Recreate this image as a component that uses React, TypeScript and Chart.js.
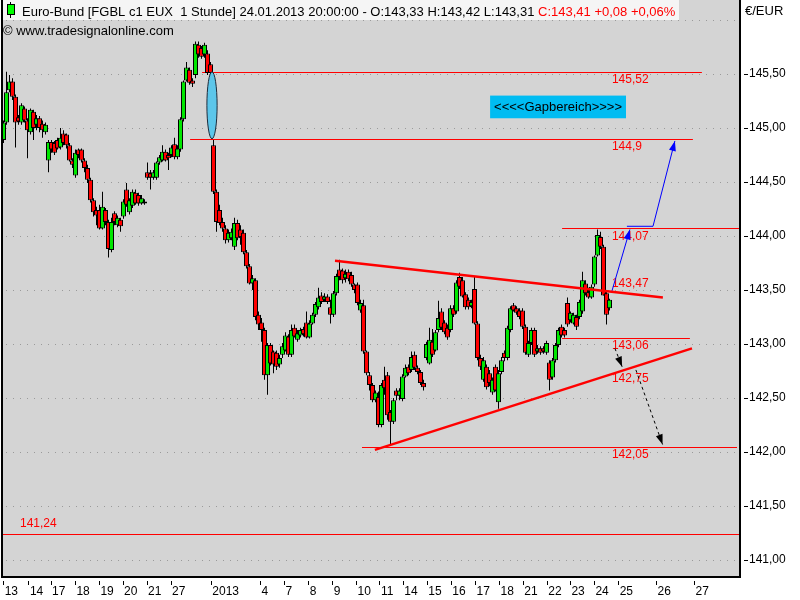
import React, { useEffect, useRef } from 'react';
import { Chart, registerables } from 'chart.js';

Chart.register(...registerables);

// ---- hourly candles (resampled, ~1.8 bars per candle) ----
const opens = [
  144.89, 145.05, 145.35, 145.43, 145.29, 145.10, 145.05, 145.18, 145.07, 144.96,
  145.15, 145.03, 145.09, 145.04, 144.96, 144.70, 144.87, 144.86, 144.89, 144.82,
  144.95, 144.94, 144.84, 144.70, 144.56, 144.80, 144.80, 144.70, 144.63, 144.52,
  144.33, 144.24, 144.24, 144.07, 144.24, 144.13, 143.87, 144.21, 144.10, 144.15,
  144.18, 144.43, 144.22, 144.28, 144.40, 144.38, 144.30, 144.32, 144.59, 144.58,
  144.54, 144.54, 144.68, 144.70, 144.78, 144.75, 144.75, 144.85, 144.73, 144.80,
  145.08, 145.44, 145.54, 145.44, 145.49, 145.77, 145.74, 145.68, 145.69, 145.59,
  144.84, 144.41, 144.24, 144.13, 144.07, 143.96, 143.98, 143.90, 144.12, 144.06,
  144.03, 143.85, 143.72, 143.56, 143.59, 143.27, 143.20, 143.13, 142.71, 142.99,
  142.93, 142.92, 142.81, 142.90, 142.94, 143.07, 142.90, 143.15, 143.04, 143.08,
  143.14, 143.20, 143.06, 143.19, 143.27, 143.34, 143.45, 143.41, 143.44, 143.34,
  143.27, 143.47, 143.69, 143.68, 143.61, 143.67, 143.64, 143.55, 143.55, 143.31,
  143.36, 142.93, 142.71, 142.62, 142.48, 142.51, 142.25, 142.67, 142.71, 142.37,
  142.28, 142.57, 142.52, 142.49, 142.70, 142.79, 142.76, 142.90, 142.78, 142.74,
  142.64, 142.87, 142.82, 143.02, 142.94, 143.13, 143.30, 143.20, 143.15, 143.13,
  143.33, 143.30, 143.62, 143.59, 143.46, 143.41, 143.35, 143.51, 143.19, 142.87,
  142.67, 142.79, 142.73, 142.55, 142.79, 142.46, 142.74, 142.92, 142.87, 143.13,
  143.36, 143.33, 143.31, 143.31, 143.16, 142.90, 143.01, 143.13, 142.93, 142.96,
  142.96, 142.92, 142.83, 142.69, 142.85, 142.99, 143.16, 143.13, 143.38, 143.22,
  143.19, 143.25, 143.25, 143.30, 143.56, 143.48, 143.43, 143.55, 143.82, 143.99,
  143.90, 143.47, 143.33,
];
const highs = [
  145.07, 145.52, 145.49, 145.46, 145.31, 145.12, 145.23, 145.20, 145.09, 145.18,
  145.17, 145.12, 145.11, 145.07, 145.05, 144.89, 144.89, 144.88, 144.91, 145.00,
  144.98, 144.95, 144.86, 144.72, 144.80, 144.81, 144.81, 144.72, 144.66, 144.54,
  144.35, 144.27, 144.29, 144.41, 144.26, 144.15, 144.17, 144.23, 144.19, 144.17,
  144.34, 144.49, 144.35, 144.43, 144.43, 144.40, 144.38, 144.34, 144.68, 144.61,
  144.61, 144.69, 144.75, 144.84, 144.80, 144.77, 144.84, 144.91, 144.84, 145.10,
  145.44, 145.61, 145.56, 145.46, 145.80, 145.80, 145.76, 145.79, 145.72, 145.61,
  144.89, 144.43, 144.29, 144.17, 144.10, 144.06, 144.07, 144.17, 144.15, 144.10,
  144.06, 143.87, 143.74, 143.64, 143.61, 143.30, 143.24, 143.15, 143.01, 143.01,
  142.94, 142.94, 142.90, 143.01, 143.11, 143.09, 143.18, 143.18, 143.13, 143.15,
  143.16, 143.30, 143.22, 143.29, 143.39, 143.52, 143.48, 143.47, 143.46, 143.41,
  143.49, 143.65, 143.78, 143.70, 143.69, 143.69, 143.67, 143.56, 143.57, 143.41,
  143.41, 142.94, 142.74, 142.64, 142.57, 142.56, 142.64, 142.79, 142.74, 142.39,
  142.50, 142.59, 142.59, 142.72, 142.81, 142.81, 142.93, 142.93, 142.80, 142.76,
  142.67, 143.02, 143.15, 143.14, 143.13, 143.40, 143.33, 143.22, 143.18, 143.36,
  143.36, 143.59, 143.66, 143.62, 143.48, 143.43, 143.41, 143.62, 143.21, 142.90,
  142.88, 142.81, 142.76, 142.69, 142.81, 142.76, 142.88, 142.94, 143.17, 143.35,
  143.38, 143.35, 143.33, 143.33, 143.18, 143.03, 143.15, 143.15, 142.99, 142.98,
  142.98, 143.03, 142.85, 142.87, 143.01, 143.15, 143.18, 143.15, 143.43, 143.30,
  143.29, 143.27, 143.41, 143.67, 143.59, 143.52, 143.55, 143.82, 144.06, 144.04,
  143.92, 143.49, 143.42,
];
const lows = [
  144.86, 145.03, 145.33, 145.26, 144.82, 145.03, 145.03, 145.05, 144.72, 144.94,
  144.89, 144.98, 144.96, 144.91, 144.94, 144.59, 144.77, 144.75, 144.80, 144.80,
  144.84, 144.81, 144.69, 144.63, 144.54, 144.72, 144.68, 144.59, 144.49, 144.31,
  144.18, 144.10, 144.06, 144.06, 144.10, 143.80, 143.85, 144.10, 144.08, 144.04,
  144.16, 144.27, 144.20, 144.26, 144.29, 144.28, 144.29, 144.29, 144.52, 144.43,
  144.52, 144.52, 144.66, 144.69, 144.69, 144.61, 144.73, 144.71, 144.71, 144.78,
  145.06, 145.43, 145.40, 145.38, 145.46, 145.65, 145.64, 145.65, 145.49, 145.49,
  144.39, 144.04, 144.10, 144.04, 143.93, 143.94, 143.96, 143.87, 143.96, 143.92,
  143.83, 143.70, 143.55, 143.50, 143.22, 143.13, 143.02, 142.67, 142.53, 142.80,
  142.73, 142.76, 142.78, 142.87, 142.93, 142.88, 142.88, 143.06, 143.02, 143.06,
  143.07, 143.05, 143.05, 143.18, 143.25, 143.32, 143.37, 143.39, 143.37, 143.19,
  143.25, 143.45, 143.59, 143.56, 143.57, 143.58, 143.53, 143.47, 143.36, 143.29,
  142.91, 142.71, 142.57, 142.46, 142.46, 142.23, 142.23, 142.53, 142.30, 142.07,
  142.26, 142.48, 142.48, 142.47, 142.69, 142.71, 142.74, 142.76, 142.72, 142.62,
  142.57, 142.85, 142.81, 142.88, 142.93, 143.11, 143.13, 143.09, 143.04, 143.11,
  143.25, 143.28, 143.51, 143.43, 143.32, 143.32, 143.33, 143.18, 142.85, 142.76,
  142.65, 142.58, 142.61, 142.53, 142.56, 142.40, 142.72, 142.84, 142.85, 143.11,
  143.30, 143.27, 143.23, 143.14, 142.90, 142.88, 142.99, 142.88, 142.91, 142.90,
  142.91, 142.90, 142.57, 142.67, 142.83, 142.97, 143.06, 143.06, 143.16, 143.20,
  143.18, 143.13, 143.23, 143.28, 143.45, 143.42, 143.42, 143.53, 143.81, 143.88,
  143.45, 143.18, 143.31,
];
const closes = [
  145.05, 145.33, 145.43, 145.29, 145.05, 145.06, 145.21, 145.07, 144.98, 145.17,
  145.00, 145.09, 145.00, 144.98, 145.03, 144.87, 144.80, 144.77, 144.81, 144.91,
  144.86, 144.84, 144.70, 144.66, 144.77, 144.75, 144.70, 144.63, 144.52, 144.33,
  144.22, 144.19, 144.07, 144.27, 144.13, 143.88, 144.13, 144.13, 144.17, 144.09,
  144.32, 144.29, 144.33, 144.41, 144.30, 144.30, 144.35, 144.30, 144.54, 144.54,
  144.59, 144.68, 144.73, 144.78, 144.70, 144.72, 144.82, 144.73, 144.81, 145.08,
  145.43, 145.56, 145.42, 145.41, 145.78, 145.68, 145.66, 145.77, 145.51, 145.51,
  144.41, 144.13, 144.12, 144.07, 143.96, 144.03, 144.04, 144.12, 143.98, 143.99,
  143.85, 143.72, 143.56, 143.61, 143.25, 143.18, 143.13, 142.71, 142.99, 142.82,
  142.81, 142.79, 142.87, 142.98, 143.08, 142.90, 143.13, 143.07, 143.10, 143.13,
  143.09, 143.06, 143.19, 143.27, 143.37, 143.43, 143.39, 143.44, 143.39, 143.27,
  143.47, 143.63, 143.62, 143.59, 143.65, 143.60, 143.55, 143.50, 143.38, 143.38,
  142.93, 142.73, 142.62, 142.48, 142.55, 142.25, 142.62, 142.59, 142.34, 142.28,
  142.48, 142.52, 142.57, 142.70, 142.78, 142.73, 142.88, 142.78, 142.74, 142.64,
  142.60, 143.00, 143.04, 142.90, 143.11, 143.24, 143.15, 143.11, 143.06, 143.33,
  143.27, 143.57, 143.53, 143.44, 143.34, 143.34, 143.39, 143.19, 142.87, 142.79,
  142.85, 142.60, 142.64, 142.67, 142.57, 142.73, 142.85, 142.87, 143.15, 143.33,
  143.31, 143.29, 143.25, 143.16, 142.92, 143.01, 143.13, 142.90, 142.96, 142.92,
  142.93, 143.01, 142.67, 142.85, 142.99, 143.13, 143.08, 143.08, 143.18, 143.29,
  143.27, 143.16, 143.39, 143.59, 143.47, 143.43, 143.53, 143.81, 144.01, 143.90,
  143.45, 143.27, 143.41,
];

// ---- axes ----
const xMin = -0.5;
const xMax = 245.5;
const xTickPos = [0.4, 8.8, 16.2, 24.3, 32.3, 40.2, 48.2, 56.2, 69.6, 86, 94, 102.1, 110.1, 118, 125.8, 133.6, 141.6, 149.6, 157.7, 165.7, 173.6, 181.6, 189.3, 197.3, 205.4, 218, 230.7];
const xTickLabels = ['13', '14', '17', '18', '19', '20', '21', '27', '2013', '4', '7', '8', '9', '10', '11', '14', '15', '16', '17', '18', '21', '22', '23', '24', '25', '26', '27'];
const yMin = 140.843;
const yMax = 146.185;
const yTicks = [141, 141.5, 142, 142.5, 143, 143.5, 144, 144.5, 145, 145.5];
const yGridExtra = [146];

// ---- drawings ----
const levelValues = [145.52, 144.9, 144.07, 143.06, 142.05, 141.24];
const levelFrom = [66.2, 62.2, 186.2, 186.2, 119.5, -0.5];
const levelTo = [232.8, 229.8, 245.5, 228.8, 244.5, 245.5];

const tagValues = [145.52, 144.9, 144.07, 143.47, 143.06, 142.75, 142.05, 141.24];
const tagX = [202.8, 202.8, 202.8, 202.8, 202.8, 202.8, 202.8, 5.5];
const tagAbove = [false, false, false, true, false, false, false, true];

const upperTrend = [{ x: 110.5, y: 143.77 }, { x: 219.8, y: 143.43 }];
const lowerTrend = [{ x: 123.8, y: 142.02 }, { x: 229.5, y: 142.96 }];
const blueUp1 = [{ x: 202.7, y: 143.48 }, { x: 208.8, y: 144.06 }];
const blueUp2 = [{ x: 207.8, y: 144.09 }, { x: 216.5, y: 144.09 }, { x: 223.8, y: 144.88 }];
const dashDown1 = [{ x: 203.8, y: 142.96 }, { x: 206.2, y: 142.79 }];
const dashDown2 = [{ x: 210.8, y: 142.76 }, { x: 219.7, y: 142.07 }];

const gapX = 69.5;
const gapHalfWidth = 1.7;
const gapTop = 145.52;
const gapBottom = 144.9;
const gapBoxX = [162.2, 207.5];
const gapBoxY = [145.30, 145.09];
const gapBoxText = '<<<<Gapbereich>>>>';

const titleMain = 'Euro-Bund [FGBL c1 EUX  1 Stunde] 24.01.2013 20:00:00 - ';
const titleChange = '+0,08 +0,06%';
const copyright = '\u00A9 www.tradesignalonline.com';
const unitLabel = '\u20AC/EUR';

const FONT = "'Liberation Sans', Arial, sans-serif";
const GREEN = '#00e600';
const RED = '#ff0000';
const PLOT_BG = '#d4d4d4';

const fmt = (v: number) => v.toFixed(2).replace('.', ',');
const fmtShort = (v: number) => String(v).replace('.', ',');

const decor: any = {
  id: 'decor',
  beforeDraw(chart: any) {
    const { ctx, chartArea: a, scales } = chart;
    ctx.save();
    ctx.fillStyle = '#ffffff';
    ctx.fillRect(0, 0, chart.width, chart.height);
    ctx.fillStyle = PLOT_BG;
    ctx.fillRect(a.left, a.top, a.right - a.left, a.bottom - a.top);
    ctx.strokeStyle = '#9a9a9a';
    ctx.lineWidth = 1;
    ctx.setLineDash([1, 6]);
    [...yTicks, ...yGridExtra].forEach((v) => {
      const y = Math.round(scales.y.getPixelForValue(v)) + 0.5;
      ctx.beginPath();
      ctx.moveTo(a.left + 4, y);
      ctx.lineTo(a.right, y);
      ctx.stroke();
    });
    ctx.restore();
  },
  beforeDatasetsDraw(chart: any) {
    const { ctx, scales } = chart;
    const xs = scales.x;
    const ys = scales.y;
    ctx.save();
    ctx.strokeStyle = RED;
    ctx.lineWidth = 1;
    levelValues.forEach((v, i) => {
      const y = Math.round(ys.getPixelForValue(v)) + 0.5;
      ctx.beginPath();
      ctx.moveTo(xs.getPixelForValue(levelFrom[i]), y);
      ctx.lineTo(xs.getPixelForValue(levelTo[i]), y);
      ctx.stroke();
    });
    ctx.fillStyle = RED;
    ctx.font = `12px ${FONT}`;
    ctx.textAlign = 'left';
    ctx.textBaseline = 'middle';
    tagValues.forEach((v, i) => {
      const y = ys.getPixelForValue(v) + (tagAbove[i] ? -10 : 8);
      ctx.fillText(fmtShort(v), xs.getPixelForValue(tagX[i]), y);
    });
    ctx.restore();
  },
  afterDatasetsDraw(chart: any) {
    const { ctx, chartArea: a, scales } = chart;
    const xs = scales.x;
    const ys = scales.y;
    ctx.save();
    // arrowheads
    chart.data.datasets.forEach((ds: any, di: number) => {
      if (!ds.arrow) return;
      const pts = chart.getDatasetMeta(di).data;
      const p1 = pts[pts.length - 2];
      const p2 = pts[pts.length - 1];
      const ang = Math.atan2(p2.y - p1.y, p2.x - p1.x);
      const L = 10;
      const W = 3.5;
      const c = Math.cos(ang);
      const s = Math.sin(ang);
      ctx.beginPath();
      ctx.moveTo(p2.x, p2.y);
      ctx.lineTo(p2.x - L * c + W * s, p2.y - L * s - W * c);
      ctx.lineTo(p2.x - L * c - W * s, p2.y - L * s + W * c);
      ctx.closePath();
      ctx.fillStyle = ds.borderColor;
      ctx.fill();
    });
    // gap ellipse
    const cx = xs.getPixelForValue(gapX);
    const rx = Math.abs(xs.getPixelForValue(gapX + gapHalfWidth) - cx);
    const yt = ys.getPixelForValue(gapTop);
    const yb = ys.getPixelForValue(gapBottom);
    ctx.beginPath();
    ctx.ellipse(cx, (yt + yb) / 2, rx, (yb - yt) / 2, 0, 0, Math.PI * 2);
    ctx.fillStyle = '#5cc6ea';
    ctx.fill();
    ctx.strokeStyle = '#1c2c3c';
    ctx.lineWidth = 1;
    ctx.stroke();
    // gap box
    const bx1 = xs.getPixelForValue(gapBoxX[0]);
    const bx2 = xs.getPixelForValue(gapBoxX[1]);
    const by1 = ys.getPixelForValue(gapBoxY[0]);
    const by2 = ys.getPixelForValue(gapBoxY[1]);
    ctx.fillStyle = '#00bcf2';
    ctx.fillRect(bx1, by1, bx2 - bx1, by2 - by1);
    ctx.fillStyle = '#000';
    ctx.font = `13px ${FONT}`;
    ctx.textAlign = 'center';
    ctx.textBaseline = 'middle';
    ctx.fillText(gapBoxText, (bx1 + bx2) / 2, (by1 + by2) / 2 + 0.5);
    // frame
    ctx.fillStyle = '#000';
    ctx.fillRect(a.left - 1, 0, 2, a.bottom + 1);
    ctx.fillRect(a.right - 1, 0, 2, a.bottom + 1);
    ctx.fillRect(a.left - 1, a.bottom - 1, a.right - a.left + 2, 2);
    ctx.restore();
  },
  afterDraw(chart: any) {
    const { ctx, chartArea: a, scales } = chart;
    ctx.save();
    // axis tick marks
    ctx.strokeStyle = '#000';
    ctx.lineWidth = 1;
    yTicks.forEach((v) => {
      const y = Math.round(scales.y.getPixelForValue(v)) + 0.5;
      ctx.beginPath();
      ctx.moveTo(a.right + 4, y);
      ctx.lineTo(a.right + 8, y);
      ctx.stroke();
    });
    xTickPos.forEach((v) => {
      const x = Math.round(scales.x.getPixelForValue(v) - 1.5) + 0.5;
      ctx.beginPath();
      ctx.moveTo(x, a.bottom + 4);
      ctx.lineTo(x, a.bottom + 8);
      ctx.stroke();
    });
    // title strip
    ctx.fillStyle = '#f5f5f5';
    ctx.fillRect(a.left + 1, 0, 676, 20);
    const last = opens.length - 1;
    ctx.fillStyle = '#000';
    ctx.fillRect(10, 2, 1, 16);
    ctx.fillRect(7, 4, 8, 11);
    ctx.fillStyle = '#00ff00';
    ctx.fillRect(8, 5, 6, 9);
    ctx.font = `13px ${FONT}`;
    ctx.textAlign = 'left';
    ctx.textBaseline = 'alphabetic';
    const blackPart = `${titleMain}O:${fmt(opens[last])} H:${fmt(highs[last])} L:${fmt(lows[last])} `;
    ctx.fillStyle = '#000';
    ctx.fillText(blackPart, 22, 16);
    const w = ctx.measureText(blackPart).width;
    ctx.fillStyle = RED;
    ctx.fillText(`C:${fmt(closes[last])} ${titleChange}`, 22 + w, 16);
    ctx.fillStyle = '#000';
    ctx.fillText(copyright, 3, 35);
    ctx.fillText(unitLabel, 745, 15);
    ctx.restore();
  },
};

export default function App() {
  const ref = useRef<HTMLCanvasElement>(null);
  useEffect(() => {
    const canvas = ref.current;
    if (!canvas) return;
    const idx = opens.map((_, i) => i);
    const bodies = idx.map((i) => ({ x: i, y: [opens[i], closes[i]] }));
    const wicks = idx.map((i) => ({ x: i, y: [lows[i], highs[i]] }));
    const bodyColors = idx.map((i) => (closes[i] >= opens[i] ? GREEN : RED));
    const line = (data: any[], color: string, width: number, dash: number[], arrow: boolean) => ({
      type: 'line',
      data,
      borderColor: color,
      backgroundColor: color,
      borderWidth: width,
      borderDash: dash,
      pointRadius: 0,
      fill: false,
      tension: 0,
      order: 0,
      arrow,
    });
    const chart = new Chart(canvas, {
      type: 'bar',
      data: {
        datasets: [
          {
            type: 'bar',
            label: 'body',
            data: bodies,
            backgroundColor: bodyColors,
            borderColor: '#000',
            borderWidth: 1,
            borderSkipped: false,
            barThickness: 5,
            grouped: false,
            inflateAmount: 0,
            order: 1,
          },
          {
            type: 'bar',
            label: 'wick',
            data: wicks,
            backgroundColor: '#000',
            borderWidth: 0,
            barThickness: 1,
            grouped: false,
            inflateAmount: 0,
            order: 2,
          },
          line(upperTrend, RED, 2.5, [], false),
          line(lowerTrend, RED, 2.5, [], false),
          line(blueUp1, '#0000ff', 1, [], true),
          line(blueUp2, '#0000ff', 1, [], true),
          line(dashDown1, '#000000', 1, [3, 3], true),
          line(dashDown2, '#000000', 1, [3, 3], true),
        ] as any,
      },
      options: {
        responsive: false,
        animation: false,
        events: [],
        layout: { autoPadding: false, padding: { left: 2, top: 0, right: 0, bottom: 0 } },
        plugins: { legend: { display: false }, tooltip: { enabled: false } },
        scales: {
          x: {
            type: 'linear',
            position: 'bottom',
            min: xMin,
            max: xMax,
            offset: false,
            afterBuildTicks: (s: any) => {
              s.ticks = xTickPos.map((v) => ({ value: v }));
            },
            afterFit: (s: any) => {
              s.height = 23;
              s.paddingLeft = 0;
              s.paddingRight = 0;
            },
            grid: { display: false, drawTicks: false, offset: false },
            border: { display: false },
            ticks: {
              callback: (_v: any, i: number) => xTickLabels[i],
              align: 'start',
              padding: 7,
              maxRotation: 0,
              minRotation: 0,
              autoSkip: false,
              color: '#000',
              font: { family: FONT, size: 12 },
            },
          },
          y: {
            type: 'linear',
            position: 'right',
            min: yMin,
            max: yMax,
            afterBuildTicks: (s: any) => {
              s.ticks = yTicks.map((v) => ({ value: v }));
            },
            afterFit: (s: any) => {
              s.width = 60;
              s.paddingTop = 0;
              s.paddingBottom = 0;
            },
            grid: { display: false, drawTicks: false },
            border: { display: false },
            ticks: {
              callback: (v: any) => fmt(Number(v)),
              padding: 9,
              autoSkip: false,
              color: '#000',
              font: { family: FONT, size: 12 },
            },
          },
        },
      } as any,
      plugins: [decor],
    } as any);
    return () => chart.destroy();
  }, []);
  return (
    <div style={{ position: 'fixed', left: 0, top: 0, width: 800, height: 600, background: '#fff' }}>
      <canvas ref={ref} width={800} height={600} style={{ display: 'block', width: 800, height: 600 }} />
    </div>
  );
}
